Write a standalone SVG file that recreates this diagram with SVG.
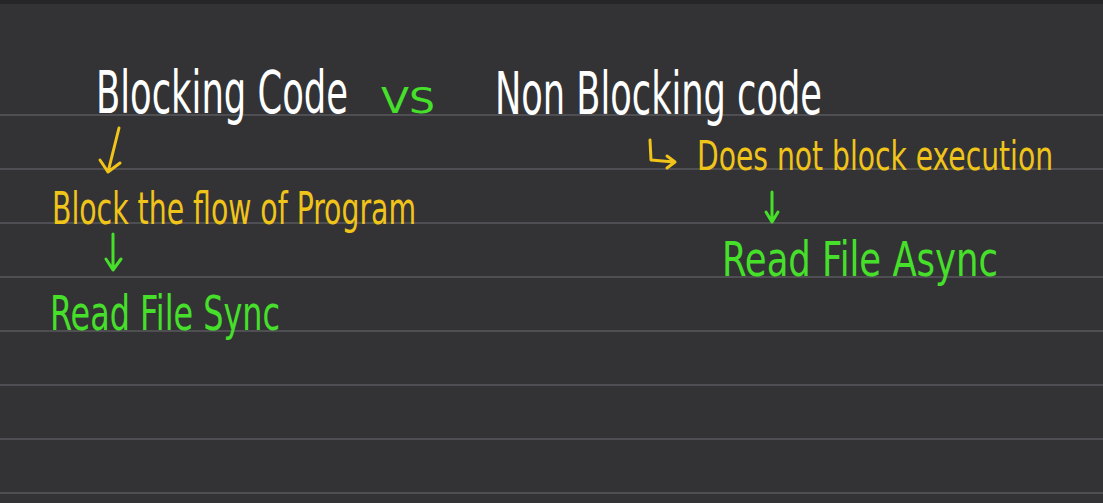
<svg xmlns="http://www.w3.org/2000/svg" width="1103" height="503" viewBox="0 0 1103 503">
<defs>
<style>
.bg{fill:#333336}
.rule{stroke:#4f4f53;stroke-width:2}
.t{font-family:"Liberation Sans Narrow","DejaVu Sans Condensed","Liberation Sans",sans-serif;font-weight:normal}
.w{fill:#ffffff}
.y{fill:#f0c419}
.g{fill:#46e02a}
.ay{stroke:#f0c419;stroke-width:3;fill:none;stroke-linecap:round;stroke-linejoin:round}
.ag{stroke:#46e02a;stroke-width:3;fill:none;stroke-linecap:round;stroke-linejoin:round}
</style>
</defs>
<rect class="bg" x="0" y="0" width="1103" height="503"/>
<rect x="0" y="0" width="1103" height="4" fill="#262628"/>
<g id="rules">
<line class="rule" x1="0" y1="115" x2="1103" y2="115"/>
<line class="rule" x1="0" y1="169" x2="1103" y2="169"/>
<line class="rule" x1="0" y1="223" x2="1103" y2="223"/>
<line class="rule" x1="0" y1="277" x2="1103" y2="277"/>
<line class="rule" x1="0" y1="331" x2="1103" y2="331"/>
<line class="rule" x1="0" y1="385" x2="1103" y2="385"/>
<line class="rule" x1="0" y1="439" x2="1103" y2="439"/>
<line class="rule" x1="0" y1="493" x2="1103" y2="493"/>
</g>
<g id="blocking-code"><text class="t w" x="96" y="113" font-size="58" textLength="252" lengthAdjust="spacingAndGlyphs">Blocking Code</text></g>
<g id="vs"><text class="t g" x="381" y="113" font-size="36" textLength="54" lengthAdjust="spacingAndGlyphs">VS</text></g>
<g id="non-blocking-code"><text class="t w" x="495" y="114" font-size="58" textLength="327" lengthAdjust="spacingAndGlyphs">Non Blocking code</text></g>
<g id="block-flow"><text class="t y" x="52" y="224" font-size="44" textLength="364" lengthAdjust="spacingAndGlyphs">Block the flow of Program</text></g>
<g id="read-file-sync"><text class="t g" x="50" y="330" font-size="48" textLength="230" lengthAdjust="spacingAndGlyphs">Read File Sync</text></g>
<g id="does-not-block"><text class="t y" x="697" y="170" font-size="40" textLength="356" lengthAdjust="spacingAndGlyphs">Does not block execution</text></g>
<g id="read-file-async"><text class="t g" x="722" y="276" font-size="48" textLength="276" lengthAdjust="spacingAndGlyphs">Read File Async</text></g>
<g id="connectors">
<path class="ay" d="M119 128 L108 172 M100 160 L108 172 L120 163"/>
<path class="ag" d="M113 234 L113 269 M106 259 L113 270 L121 259"/>
<path class="ay" d="M650 140 L651 160 L674 162 M667 156 L675 162 L667 168"/>
<path class="ag" d="M772 192 L772 221 M766 212 L772 222 L778 212"/>
</g>
</svg>
